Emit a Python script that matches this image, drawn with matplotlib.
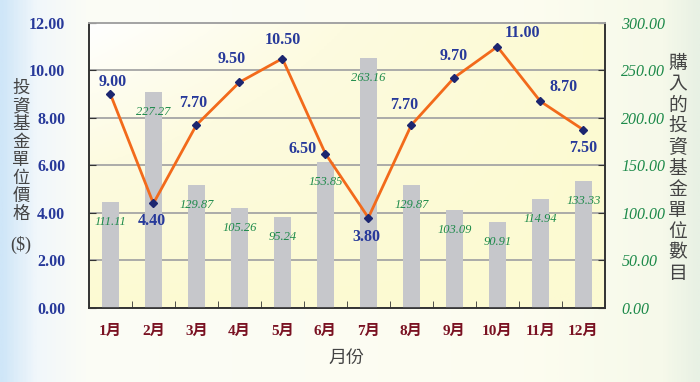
import matplotlib
matplotlib.use('Agg')
import matplotlib.pyplot as plt
import numpy as np
from matplotlib.colors import LinearSegmentedColormap

months = ['1月', '2月', '3月', '4月', '5月', '6月', '7月', '8月', '9月', '10月', '11月', '12月']
price = [9.00, 4.40, 7.70, 9.50, 10.50, 6.50, 3.80, 7.70, 9.70, 11.00, 8.70, 7.50]
units = [111.11, 227.27, 129.87, 105.26, 95.24, 153.85, 263.16, 129.87, 103.09, 90.91, 114.94, 133.33]

# label offsets in pixels (hand placed in the original)
price_offsets = [(2, 12), (-2, -18), (-3, 22), (-8, 23), (0, 19), (-23, 5),
                 (-2, -19), (-7, 20), (-1, 22), (25, 14), (23, 14), (0, -18)]

left_ticks = [0, 2, 4, 6, 8, 10, 12]
right_ticks = [0, 50, 100, 150, 200, 250, 300]

SERIF = ['Liberation Serif', 'Noto Sans CJK TC']
CJK = ['Noto Sans CJK TC', 'DejaVu Sans']
BLUE = '#27399a'
GREEN = '#1d8a4a'
RED = '#7a1222'
GREY_TXT = '#444444'

fig = plt.figure(figsize=(7, 3.82), dpi=100)

# figure background: blue edge on the left, cream in the middle, pale green on the right
bg = fig.add_axes([0, 0, 1, 1], zorder=-10)
bg.axis('off')
bg_cmap = LinearSegmentedColormap.from_list('bg', [
    (0.0, '#cfe6f8'), (0.05, '#f1f7fb'), (0.12, '#fbfcf6'),
    (0.75, '#fdfdf0'), (0.95, '#f6f9ea'), (1.0, '#e8f1e4')])
bg.imshow(np.linspace(0, 1, 400)[None, :], aspect='auto', cmap=bg_cmap,
          extent=[0, 1, 0, 1], transform=bg.transAxes)
bg.set_xlim(0, 1)
bg.set_ylim(0, 1)

ax = fig.add_axes([0.127, 0.194, 0.737, 0.746])
ax2 = ax.twinx()
ax.set_zorder(ax2.get_zorder() + 1)
ax.patch.set_visible(False)

# plot area fill: white in the top-left corner, pale yellow elsewhere
pa_cmap = LinearSegmentedColormap.from_list('pa', ['#ffffff', '#fdfbe0', '#fcfad2'])
gx = np.linspace(0, 1, 200)[None, :]
gy = np.linspace(1, 0, 200)[:, None]
grad = 1 - (1 - gx) * gy
ax2.imshow(grad, aspect='auto', cmap=pa_cmap, extent=[0, 1, 0, 1],
           transform=ax2.transAxes, zorder=0)

x = np.arange(len(months))

ax2.bar(x, units, width=0.4, color='#c6c7cb', zorder=3)
ax2.set_ylim(0, 300)
ax2.set_yticks(right_ticks)
ax2.set_yticklabels(['%.2f' % v for v in right_ticks], color=GREEN,
                    fontstyle='italic', fontsize=11.5, family=SERIF)
ax2.yaxis.grid(True, color='#a5a5a5', linewidth=1.3, zorder=1)
ax2.set_axisbelow(True)
for xi, u in zip(x, units):
    ax2.annotate('%.2f' % u, (xi, u), xytext=(0, -20), textcoords='offset pixels',
                 ha='center', va='center', color=GREEN, fontstyle='italic',
                 fontsize=9, family=SERIF, zorder=4)

ax.plot(x, price, color='#f26a1b', linewidth=2, marker='D', markersize=4.5,
        markerfacecolor='#1c2670', markeredgecolor='#1c2670', zorder=5)
for xi, p, (dx, dy) in zip(x, price, price_offsets):
    ax.annotate('%.2f' % p, (xi, p), xytext=(dx, dy), textcoords='offset pixels',
                ha='center', va='center', color=BLUE, fontweight='bold',
                fontsize=11.5, family=SERIF)

ax.set_ylim(0, 12)
ax.set_xlim(-0.5, 11.5)
ax.set_yticks(left_ticks)
ax.set_yticklabels(['%.2f' % v for v in left_ticks], color=BLUE,
                   fontweight='bold', fontsize=11.5, family=SERIF)
ax.set_xticks(x)
ax.set_xticklabels(months, color=RED, fontweight='bold', fontsize=11, family=SERIF)
ax.set_xticks(np.arange(-0.5, 12, 1), minor=True)
ax.tick_params(axis='x', which='major', length=0, pad=12)
ax.tick_params(axis='x', which='minor', direction='in', length=5, color='#333333')
ax.tick_params(axis='y', direction='in', length=5, color='#333333', pad=17)
ax2.tick_params(axis='y', direction='in', length=5, color='#333333', pad=12)

for a in (ax, ax2):
    for s in ('left', 'right', 'bottom'):
        a.spines[s].set_color('#333333')
        a.spines[s].set_linewidth(1.2)
    a.spines['top'].set_color('#a5a5a5')
    a.spines['top'].set_linewidth(1.3)

ax.set_xlabel('月份', family=CJK, fontsize=13, color=GREY_TXT, labelpad=8)

fig.text(0.030, 0.605, '\n'.join('投資基金單位價格'), family=CJK, fontsize=12.5,
         color=GREY_TXT, ha='center', va='center', linespacing=1.0)
fig.text(0.030, 0.36, '($)', family=SERIF, fontsize=13, color=GREY_TXT,
         ha='center', va='center')
fig.text(0.968, 0.56, '\n'.join('購入的投資基金單位數目'), family=CJK, fontsize=13.5,
         color=GREY_TXT, ha='center', va='center', linespacing=1.0)

fig.savefig('out.png', dpi=100)
